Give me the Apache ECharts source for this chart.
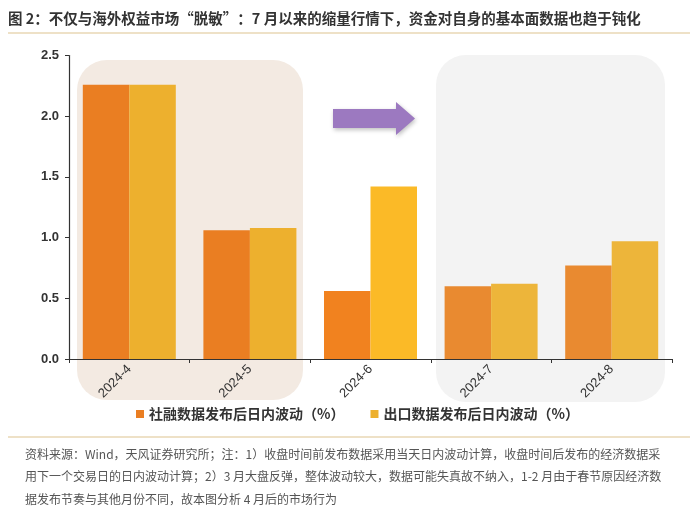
<!DOCTYPE html>
<html>
<head>
<meta charset="utf-8">
<script src="https://cdn.jsdelivr.net/npm/echarts@6/dist/echarts.min.js"></script>
<style>html,body{margin:0;padding:0;background:#fff}#c{width:700px;height:529px}</style>
</head>
<body>
<div id="c"></div>
<script>
const categories = ['2024-4', '2024-5', '2024-6', '2024-7', '2024-8'];
const socialFinancing = [2.26, 1.06, 0.56, 0.60, 0.77];
const exportData = [2.26, 1.08, 1.42, 0.62, 0.97];
const seriesNames = ['社融数据发布后日内波动（%）', '出口数据发布后日内波动（%）'];
const yTicks = [0, 0.5, 1.0, 1.5, 2.0, 2.5];
const titleText = '图 2：不仅与海外权益市场“脱敏”：7 月以来的缩量行情下，资金对自身的基本面数据也趋于钝化';
const noteLines = [
  '资料来源：Wind，天风证券研究所；注：1）收盘时间前发布数据采用当天日内波动计算，收盘时间后发布的经济数据采',
  '用下一个交易日的日内波动计算；2）3 月大盘反弹，整体波动较大，数据可能失真故不纳入，1-2 月由于春节原因经济数',
  '据发布节奏与其他月份不同，故本图分析 4 月后的市场行为'
];

const orangeColors = ['#EA7E22', '#EA7E22', '#F1821F', '#E98A30', '#E98A30'];
const yellowColors = ['#EDB02E', '#EDB02E', '#FBBA27', '#EDB53A', '#EDB53A'];

const font = '"Noto Sans CJK SC", "Noto Sans", sans-serif';
const chart = echarts.init(document.getElementById('c'), null, {renderer: 'canvas'});

const graphics = [
  {type: 'rect', z: 0, shape: {x: 77, y: 60, width: 226, height: 340, r: 30}, style: {fill: '#F3EAE2'}},
  {type: 'rect', z: 0, shape: {x: 436, y: 55, width: 229, height: 347, r: 30}, style: {fill: '#F3F3F3'}},
  {type: 'polygon', z: 10, shape: {points: [[333,109],[396,109],[396,102],[415,118.5],[396,135],[396,128],[333,128]]},
    style: {fill: '#9C79C0', shadowBlur: 4, shadowColor: 'rgba(0,0,0,0.25)', shadowOffsetX: 1, shadowOffsetY: 2}},
  {type: 'text', left: 8, top: 11, style: {text: titleText, font: 'bold 14.5px ' + font, fill: '#333'}},
  {type: 'line', shape: {x1: 8, y1: 33, x2: 690, y2: 33}, style: {stroke: '#E8D7B5', lineWidth: 1.5}},
  {type: 'line', shape: {x1: 8, y1: 437, x2: 690, y2: 437}, style: {stroke: '#E8D7B5', lineWidth: 1.5}}
];
noteLines.forEach((t, i) => {
  graphics.push({type: 'text', left: 25, top: 448 + i * 22.5, style: {text: t, font: '12px ' + font, fill: '#555'}});
});

chart.setOption({
  animation: false,
  backgroundColor: '#fff',
  textStyle: {fontFamily: font},
  graphic: graphics,
  grid: {left: 69, right: 28, top: 55.5, bottom: 170, containLabel: false},
  legend: {
    left: 131, top: 402, itemWidth: 8, itemHeight: 8, itemGap: 26, icon: 'rect',
    textStyle: {fontSize: 14, fontWeight: 'bold', color: '#333', fontFamily: font},
    data: seriesNames
  },
  xAxis: {
    type: 'category', data: categories,
    axisLine: {lineStyle: {color: '#333', width: 1.2}},
    axisTick: {show: true, length: 4, lineStyle: {color: '#333'}},
    axisLabel: {rotate: 45, interval: 0, fontSize: 13, color: '#333', margin: 8, fontFamily: 'Liberation Sans, Arial, sans-serif'}
  },
  yAxis: {
    type: 'value', min: yTicks[0], max: yTicks[yTicks.length - 1], interval: 0.5,
    splitLine: {show: false},
    axisLine: {show: true, lineStyle: {color: '#333', width: 1.2}},
    axisTick: {show: true, length: 4, lineStyle: {color: '#333'}},
    axisLabel: {fontSize: 13, fontWeight: 'bold', color: '#333', margin: 10, fontFamily: 'Liberation Sans, Arial, sans-serif',
      formatter: v => v.toFixed(1)}
  },
  series: [
    {name: seriesNames[0], type: 'bar', barWidth: 46.5, barGap: '0%', z: 5,
      itemStyle: {color: '#EA7E22'},
      data: socialFinancing.map((v, i) => ({value: v, itemStyle: {color: orangeColors[i]}}))},
    {name: seriesNames[1], type: 'bar', barWidth: 46.5, barGap: '0%', z: 5,
      itemStyle: {color: '#EDB02E'},
      data: exportData.map((v, i) => ({value: v, itemStyle: {color: yellowColors[i]}}))}
  ]
});
</script>
</body>
</html>
